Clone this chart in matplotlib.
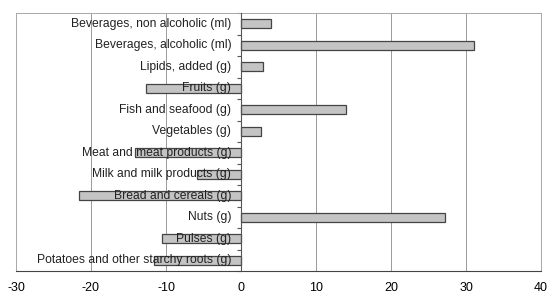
"""Food group differences, horizontal bars"""

import numpy as np
import matplotlib.pyplot as plt

categories = [
    "Beverages, non alcoholic (ml)",
    "Beverages, alcoholic (ml)",
    "Lipids, added (g)",
    "Fruits (g)",
    "Fish and seafood (g)",
    "Vegetables (g)",
    "Meat and meat products (g)",
    "Milk and milk products (g)",
    "Bread and cereals (g)",
    "Nuts (g)",
    "Pulses (g)",
    "Potatoes and other starchy roots (g)",
]
values = [4.0, 31.1, 2.9, -12.7, 14.0, 2.6, -14.2, -5.9, -21.6, 27.2, -10.6, -11.6]
xticks = [-30, -20, -10, 0, 10, 20, 30, 40]

plt.rcParams["font.family"] = ["Liberation Sans", "DejaVu Sans"]

fig = plt.figure(figsize=(5.47, 2.94), dpi=100)
ax = fig.add_axes([16 / 547, 23 / 294, 525 / 547, 258 / 294])

y = np.arange(len(categories))
ax.barh(y, values, height=0.42, color="#c4c4c4", edgecolor="#444444",
        linewidth=0.9, zorder=2)

ax.set_xlim(-30, 40)
ax.set_ylim(len(categories) - 0.5, -0.5)
ax.set_xticks(xticks)
ax.set_xticklabels([str(t) for t in xticks], fontsize=9)
ax.tick_params(axis="x", length=0, pad=8)

for t in xticks[1:-1]:
    if t != 0:
        ax.axvline(t, color="#9a9a9a", linewidth=0.7, zorder=1)

# y axis sits at zero, small ticks between categories
ax.spines["left"].set_position(("data", 0))
ax.spines["left"].set_color("#555555")
ax.spines["left"].set_zorder(3)
ax.set_yticks(np.arange(-0.5, len(categories), 1.0))
ax.set_yticklabels([])
ax.tick_params(axis="y", length=3, color="#555555", direction="out")

for side in ["top", "right"]:
    ax.spines[side].set_color("#a8a8a8")
    ax.spines[side].set_linewidth(0.7)
ax.spines["bottom"].set_color("#444444")
ax.axvline(-30, color="#a8a8a8", linewidth=0.7, zorder=1)

for yi, name in zip(y, categories):
    ax.annotate(name, xy=(0, yi), xytext=(-7, 0), textcoords="offset points",
                ha="right", va="center", fontsize=8.7, color="#222222", zorder=4)

fig.savefig("out.png", dpi=100)
